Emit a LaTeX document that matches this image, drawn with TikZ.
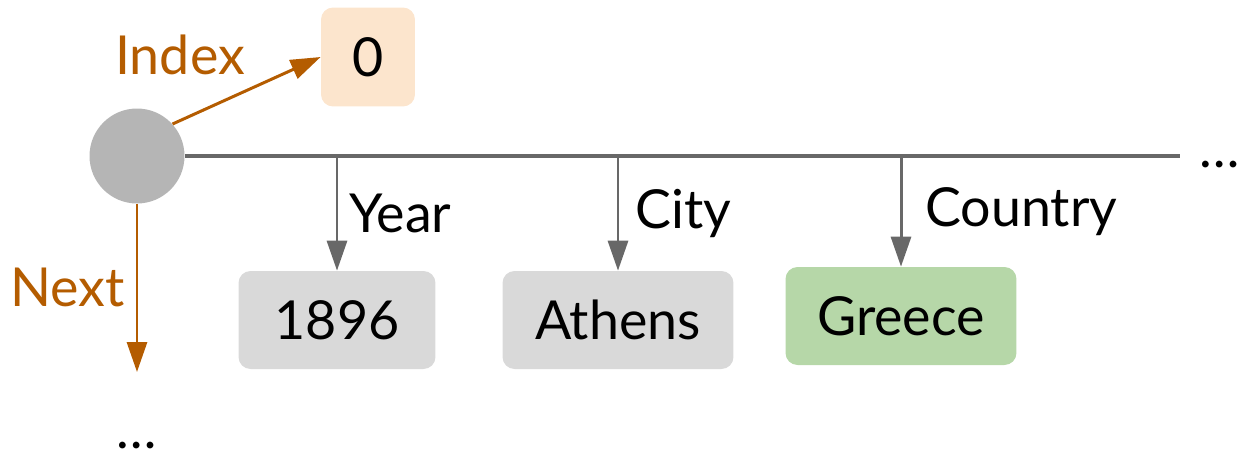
\documentclass[tikz,border=0pt]{standalone}
\usepackage{fontspec}
\setmainfont{Lato}
\usepackage{tikz}
\usetikzlibrary{arrows.meta,positioning,calc}

\definecolor{nextorange}{RGB}{180,92,0}
\definecolor{spinegray}{RGB}{104,104,104}
\definecolor{hubgray}{RGB}{181,181,181}
\definecolor{valgray}{RGB}{217,217,217}
\definecolor{valgreen}{RGB}{182,215,168}
\definecolor{idxpeach}{RGB}{252,229,205}

\begin{document}
\begin{tikzpicture}[x=0.02cm, y=-0.02cm,
    font=\fontsize{30.6}{36}\selectfont,
    valbox/.style={rectangle, rounded corners=0.24cm, fill=valgray, minimum height=1.96cm, text centered},
    link/.style={-{Triangle[length=0.6cm, width=0.4cm]}, line width=1.7pt, draw=nextorange, fill=nextorange},
    field/.style={-{Triangle[length=0.6cm, width=0.4cm]}, line width=1.7pt, draw=spinegray, fill=spinegray}]

    \useasboundingbox (0,0) rectangle (1238,451);

    % Entry node and its index
    \node[circle, fill=hubgray, minimum size=1.9cm, inner sep=0pt] (hub) at (137,156) {};
    \node[valbox, fill=idxpeach, minimum width=1.88cm, minimum height=1.98cm] (idx) at (368,57) {0};
    \node[text=nextorange] (idxlabel) at (180,55) {Index};

    % Field values
    \node[valbox, minimum width=3.94cm] (year) at (337,320) {1896};
    \node[valbox, minimum width=4.62cm] (city) at (618,320) {Athens};
    \node[valbox, fill=valgreen, minimum width=4.62cm] (country) at (901,316) {Greece};

    % Spine and continuation
    \coordinate (spineend) at (1180,156);
    \node (moreright) at (1220,165) {…};
    \coordinate (nextend) at (137,372);
    \node[anchor=base, inner sep=0pt] (moredown) at (137,448) {…};

    % Arrows
    \draw[line width=2.3pt, draw=spinegray] (hub.east) -- (spineend);
    \draw[link] (hub.42) -- (idx.west);
    \draw[link] (hub.south) -- node[left, text=nextorange, inner sep=6pt] {Next} (nextend);
    \draw[field] (year.north |- hub) -- node[right, text=black, inner sep=6pt] {Year} (year.north);
    \draw[field] (city.north |- hub) -- node[right, text=black, inner sep=9pt] {City} (city.north);
    \draw[field] (country.north |- hub) -- node[right, text=black, inner sep=13pt] {Country} (country.north);

\end{tikzpicture}
\end{document}
